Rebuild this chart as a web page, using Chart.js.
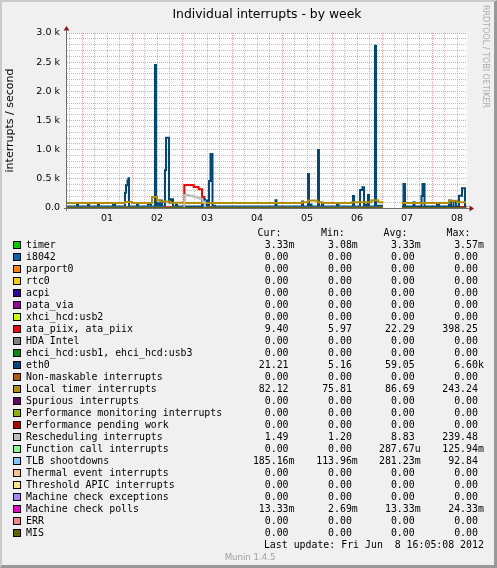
<!DOCTYPE html>
<html><head><meta charset="utf-8">
<script src="https://cdn.jsdelivr.net/npm/chart.js@4.4.1/dist/chart.umd.min.js"></script>
<style>
html,body{margin:0;padding:0;background:#F0F0F0;}
#wrap{position:relative;width:497px;height:568px;background:#F0F0F0;overflow:hidden;font-family:"DejaVu Sans",sans-serif;}
#frame{position:absolute;left:0;top:0;width:497px;height:568px;box-sizing:border-box;border-left:2px solid #CBCBCB;border-top:2px solid #CBCBCB;border-right:3px solid #999;border-bottom:3px solid #999;pointer-events:none;}
#chart{position:absolute;left:0;top:0;}
#title{position:absolute;left:67px;width:400px;top:5.5px;line-height:15px;font-size:12.4px;text-align:center;color:#000;white-space:nowrap;}
#mark{position:absolute;left:480px;top:4.5px;line-height:10px;font-size:8px;color:#AAAAAA;writing-mode:vertical-rl;white-space:nowrap;}
#munin{position:absolute;left:0;width:500px;top:552px;line-height:10px;font-size:8.6px;color:#A0A0A0;text-align:center;}
.lg{position:absolute;font-family:"DejaVu Sans Mono",monospace;font-size:9.9px;line-height:12px;color:#000;white-space:pre;}
.sw{position:absolute;width:6px;height:6px;border:1px solid #000;}
</style></head>
<body><div id="wrap">
<canvas id="chart" width="497" height="230"></canvas>
<div id="title">Individual interrupts - by week</div>
<div id="mark">RRDTOOL / TOBI OETIKER</div>
<div id="legend"></div>
<div id="munin">Munin 1.4.5</div>
<div id="frame"></div>
</div>
<script>
// ---- axis labels ----
const dayLabels = ['01','02','03','04','05','06','07','08'];
const yTickLabels = ['0.0','0.5 k','1.0 k','1.5 k','2.0 k','2.5 k','3.0 k'];
const yAxisTitle = 'interrupts / second';
// time axis in hours relative to Jun 1 00:00
const xStart = -7.2, xEnd = 184.8;
const gapStart = 144.48, gapEnd = 153.6, dataEnd = 184.32;

// ---- legend ----
const seriesNames = ['timer','i8042','parport0','rtc0','acpi','pata_via','xhci_hcd:usb2','ata_piix, ata_piix','HDA Intel','ehci_hcd:usb1, ehci_hcd:usb3','eth0','Non-maskable interrupts','Local timer interrupts','Spurious interrupts','Performance monitoring interrupts','Performance pending work','Rescheduling interrupts','Function call interrupts','TLB shootdowns','Thermal event interrupts','Threshold APIC interrupts','Machine check exceptions','Machine check polls','ERR','MIS'];
const seriesColors = ['#00CC00','#0066B3','#FF8000','#FFCC00','#330099','#990099','#CCFF00','#FF0000','#808080','#008F00','#00487D','#B35A00','#B38F00','#6B006B','#8FB300','#B30000','#BEBEBE','#80FF80','#80C9FF','#FFC080','#FFE680','#AA80FF','#EE00CC','#FF8080','#666600'];
const curValues = ['3.33m','0.00','0.00','0.00','0.00','0.00','0.00','9.40','0.00','0.00','21.21','0.00','82.12','0.00','0.00','0.00','1.49','0.00','185.16m','0.00','0.00','0.00','13.33m','0.00','0.00'];
const minValues = ['3.08m','0.00','0.00','0.00','0.00','0.00','0.00','5.97','0.00','0.00','5.16','0.00','75.81','0.00','0.00','0.00','1.20','0.00','113.96m','0.00','0.00','0.00','2.69m','0.00','0.00'];
const avgValues = ['3.33m','0.00','0.00','0.00','0.00','0.00','0.00','22.29','0.00','0.00','59.05','0.00','86.69','0.00','0.00','0.00','8.83','287.67u','281.23m','0.00','0.00','0.00','13.33m','0.00','0.00'];
const maxValues = ['3.57m','0.00','0.00','0.00','0.00','0.00','0.00','398.25','0.00','0.00','6.60k','0.00','243.24','0.00','0.00','0.00','239.48','125.94m','92.84','0.00','0.00','0.00','24.33m','0.00','0.00'];
const columnHeaders = ['Cur:','Min:','Avg:','Max:'];
const lastUpdate = 'Last update: Fri Jun  8 16:05:08 2012';

// ---- series samples: [hour, value] = value holds from that hour on (null = no data) ----
const eth0Steps = [
[-7.2,25],[-2.4,70],[-1.92,25],[2.88,60],[3.36,25],[7.68,70],[8.16,25],[14.88,70],[15.84,25],
[20.64,260],[21.12,390],[21.84,470],[22.32,510],[22.56,25],
[26.4,50],[26.88,25],[31.68,60],[33.12,25],
[35.04,2450],[35.52,25],[36.24,80],[36.72,25],[37.44,130],[38.4,25],
[39.84,650],[40.32,1205],[41.76,100],[42.72,150],[43.68,25],[45.12,60],[45.6,25],
[57.6,150],[59.04,25],[59.52,130],[60.48,25],[60.96,465],[61.68,925],[62.64,25],[63.36,40],[63.84,25],
[92.88,135],[93.36,25],
[105.6,110],[106.08,25],[108.48,585],[108.96,25],[109.68,60],[110.16,25],
[113.28,995],[113.76,25],[115.2,70],[115.68,25],[122.4,55],[123.12,25],
[130.08,205],[130.56,25],[133.44,310],[134.64,355],[135.36,25],[135.84,60],[136.32,25],
[137.28,225],[137.76,25],[140.64,2780],[141.12,25],[141.6,40],[144.48,null],
[153.6,25],[154.32,410],[155.04,25],[159.12,100],[159.6,25],[162.96,205],[163.44,410],[164.4,25],
[170.4,80],[171.36,25],[176.16,130],[177.12,25],[178.32,115],[179.52,25],[180.96,210],[182.4,340],[183.84,21],[184.32,21]
];
const localTimerSteps = [
[-7.2,86],[20.6,105],[24,86],[33.6,190],[36,135],[37.4,112],[42.2,92],[48.5,86],
[105.5,100],[108.5,130],[113,100],[115.5,86],
[129.5,98],[139,135],[142.2,98],[144.48,null],
[153.6,86],[176.3,125],[180,100],[184.32,100]
];
const ataPiixSteps = [
[-7.2,18],[49.1,395],[53.6,362],[56,322],[57.6,190],[58.6,18],[144.48,null],[153.6,18],[184.32,9]
];
const reschedSteps = [
[-7.2,3],[49.1,225],[51.5,212],[53.5,195],[55,175],[56.5,160],[57.8,110],[59,3],[144.48,null],[153.6,2],[184.32,1.5]
];
const zeroSteps = [[-7.2,0],[144.48,null],[153.6,0],[184.32,0]];
const seriesSteps = {7: ataPiixSteps, 10: eth0Steps, 12: localTimerSteps, 16: reschedSteps};

function toPoints(steps){
  const pts=[]; let prev=null;
  for (const [x,y] of steps){
    if (y===null){ if(prev!==null) pts.push({x:x,y:prev}); pts.push({x:x,y:null}); prev=null; }
    else { pts.push({x:x,y:y}); prev=y; }
  }
  return pts;
}

const N = seriesNames.length;
const datasets = seriesNames.map((name,i)=>({
  label:name,
  data: toPoints(seriesSteps[i] || zeroSteps),
  borderColor: seriesColors[i],
  backgroundColor: seriesColors[i],
  borderWidth: 2,
  pointRadius: 0,
  stepped: true,
  fill: false,
  spanGaps: false,
  order: N - i
}));

const MAJOR = 'rgba(240,120,120,0.75)';
const MINOR = 'rgba(170,170,170,0.75)';

const muninPlugin = {
  id:'munin',
  beforeDraw(chart){
    const {ctx, chartArea:a} = chart;
    ctx.save(); ctx.fillStyle='#FFFFFF';
    ctx.fillRect(a.left,a.top,a.right-a.left,a.bottom-a.top);
    ctx.restore();
  },
  beforeDatasetsDraw(chart){
    const {ctx, chartArea:a} = chart;
    ctx.save();
    ctx.fillStyle='#6E6E6E';
    ctx.fillRect(a.left-1, a.top-3, 1, a.bottom-a.top+6);
    ctx.fillRect(a.left-3, a.bottom, a.right-a.left+6, 1);
    ctx.fillStyle='#8E1B1B';
    ctx.beginPath();
    ctx.moveTo(a.left-0.5, a.top-7); ctx.lineTo(a.left+2.5, a.top-2.5); ctx.lineTo(a.left-3.5, a.top-2.5); ctx.closePath(); ctx.fill();
    ctx.beginPath();
    ctx.moveTo(a.right+7, a.bottom+0.5); ctx.lineTo(a.right+2.5, a.bottom+3.5); ctx.lineTo(a.right+2.5, a.bottom-2.5); ctx.closePath(); ctx.fill();
    ctx.restore();
  }
};

Chart.defaults.font.family = '"DejaVu Sans"';
new Chart(document.getElementById('chart'), {
  type:'line',
  data:{datasets:datasets},
  options:{
    responsive:false, animation:false, events:[],
    layout:{padding:{top:33,right:30,bottom:0,left:0}},
    plugins:{legend:{display:false}, title:{display:false}, tooltip:{enabled:false}},
    scales:{
      x:{
        type:'linear', min:xStart, max:xEnd,
        afterBuildTicks(scale){
          const t=[]; for(let h=-6; h<=180; h+=6) t.push({value:h});
          scale.ticks=t;
        },
        afterFit(scale){ scale.height = 22; },
        ticks:{autoSkip:false, maxRotation:0, padding:4.5, color:'#000', font:{size:9.5},
          callback(v){ const h=Math.round(v); return (((h%24)+24)%24===12) ? dayLabels[Math.floor(h/24)] : ''; }},
        grid:{drawTicks:false, lineWidth:1,
          color(c){ const h=Math.round(c.tick.value); return (((h%24)+24)%24===0) ? MAJOR : MINOR; }},
        border:{display:false, dash:[1,1]}
      },
      y:{
        type:'linear', min:0, max:3000,
        afterFit(scale){ scale.width = 67; },
        ticks:{stepSize:100, autoSkip:false, padding:7, color:'#000', font:{size:9.5},
          callback(v){ const r=Math.round(v); return r%500===0 ? yTickLabels[r/500] : ''; }},
        grid:{drawTicks:false, lineWidth:1,
          color(c){ const r=Math.round(c.tick.value); return r%500===0 ? MAJOR : MINOR; }},
        border:{display:false, dash:[1,1]},
        title:{display:true, text:yAxisTitle, color:'#000', font:{size:11}, padding:{top:4,bottom:0}}
      }
    }
  },
  plugins:[muninPlugin]
});

// ---- legend (HTML text) ----
const lg = document.getElementById('legend');
const colRight = [294.5, 357.8, 420.6, 483.9];
const headLeft = [257.6, 321, 383.6, 446.6];
function addText(txt, left, top, right){
  const d=document.createElement('div'); d.className='lg'; d.textContent=txt; d.style.top=top+'px';
  if(right!==undefined){ d.style.right=(497-right)+'px'; } else { d.style.left=left+'px'; }
  lg.appendChild(d);
}
function fmt(s){ return /[a-zA-Z]$/.test(s) ? s : s+' '; }
columnHeaders.forEach((h,j)=>addText(h, headLeft[j], 226.5));
const cols=[curValues,minValues,avgValues,maxValues];
seriesNames.forEach((name,i)=>{
  const top = 238.5 + 12*i;
  const sw=document.createElement('div'); sw.className='sw'; sw.style.left='13px'; sw.style.top=(241+12*i)+'px'; sw.style.background=seriesColors[i]; lg.appendChild(sw);
  addText(name, 26, top);
  cols.forEach((c,j)=>addText(fmt(c[i]), 0, top, colRight[j]));
});
addText(lastUpdate, 0, 238.5+12*25, 483.9);
</script>
</body></html>
